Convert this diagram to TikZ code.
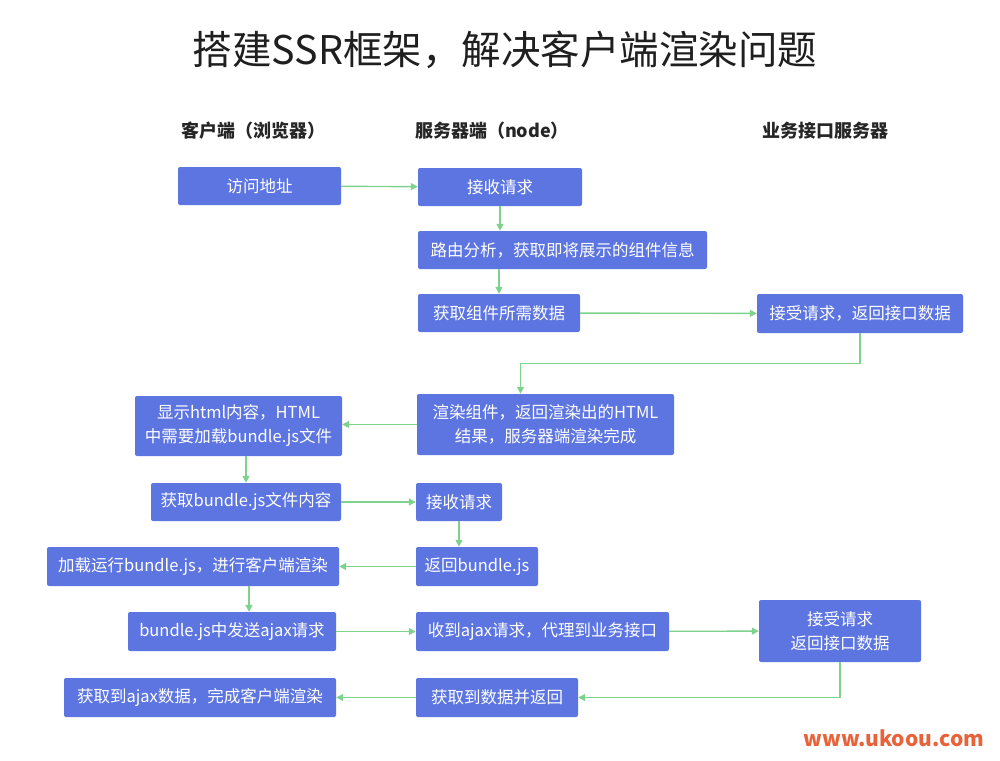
\documentclass[tikz,border=0pt]{standalone}
\usepackage{fontspec}
\setmainfont{Noto Sans CJK SC}
\usetikzlibrary{arrows.meta}
\definecolor{boxblue}{RGB}{93,117,224}
\definecolor{flowgreen}{RGB}{126,210,140}
\definecolor{siteorange}{RGB}{232,98,58}
\tikzset{
  box/.style={fill=boxblue,rounded corners=2pt,text=white,inner sep=0pt,align=center,font=\fontsize{16.5}{24}\selectfont},
  flow/.style={draw=flowgreen,line width=1.4pt,-{Triangle[length=7pt,width=7pt]}},
  colhead/.style={font=\fontsize{18}{22}\selectfont\bfseries,text=black!85}
}

\begin{document}
\begin{tikzpicture}[x=1pt,y=-1pt]
\useasboundingbox[fill=white](0,0)rectangle(1000,760);
\node[font=\fontsize{39.5}{44}\selectfont,text=black!88](title)at(505,50){搭建SSR框架，解决客户端渲染问题};
\node[colhead](hclient)at(253,131){客户端（浏览器）};\node[colhead](hserver)at(492,131){服务器端（node）};\node[colhead](hapi)at(825,131){业务接口服务器};
% first request: page html
\node[box,minimum width=163,minimum height=38](visit)at(259.5,186){访问地址};
\node[box,minimum width=164,minimum height=38](recv)at(500,187){接收请求};
\node[box,minimum width=289,minimum height=38](route)at(562.5,250){路由分析，获取即将展示的组件信息};
\node[box,minimum width=162,minimum height=38](getdata)at(499,313){获取组件所需数据};
\node[box,minimum width=206,minimum height=39](api1)at(860,313.5){接受请求，返回接口数据};
\node[box,minimum width=257,minimum height=61](render)at(545.5,424.5){渲染组件，返回渲染出的HTML\\结果，服务器端渲染完成};
\node[box,minimum width=207,minimum height=60](showhtml)at(238.5,426){显示html内容，HTML\\中需要加载bundle.js文件};
% second request: bundle.js
\node[box,minimum width=190,minimum height=38](getbundle)at(246,502){获取bundle.js文件内容};
\node[box,minimum width=86,minimum height=38](recv2)at(459,502){接收请求};
\node[box,minimum width=122,minimum height=39](retbundle)at(477,566.5){返回bundle.js};
\node[box,minimum width=292,minimum height=39](loadrun)at(193,566.5){加载运行bundle.js，进行客户端渲染};
% ajax
\node[box,minimum width=208,minimum height=39](sendajax)at(232,631.5){bundle.js中发送ajax请求};
\node[box,minimum width=253,minimum height=39](proxy)at(542.5,631.5){收到ajax请求，代理到业务接口};
\node[box,minimum width=162,minimum height=62](api2)at(840,631){接受请求\\返回接口数据};
\node[box,minimum width=272,minimum height=39](gotajax)at(200,697.5){获取到ajax数据，完成客户端渲染};
\node[box,minimum width=162,minimum height=39](gotdata)at(497,697.5){获取到数据并返回};
\node[font=\fontsize{21}{24}\selectfont\bfseries,text=siteorange](site)at(894,738){www.ukoou.com};
\draw[flow](visit)--(recv);\draw[flow](recv.south)--(recv.south|-route.north);\draw[flow](getdata.north|-route.south)--(getdata.north);\draw[flow](getdata)--(api1);
\draw[flow](api1.south)--++(0,30)-|([xshift=-25]render.north);\draw[flow](render)--(render.west-|showhtml.east);\draw[flow](getbundle.north|-showhtml.south)--(getbundle.north);
\draw[flow](getbundle)--(recv2);\draw[flow](recv2.south)--(recv2.south|-retbundle.north);\draw[flow](retbundle)--(loadrun);\draw[flow]([xshift=56]loadrun.south)--([xshift=17]sendajax.north);
\draw[flow](sendajax)--(proxy);\draw[flow](proxy)--(api2);\draw[flow](api2.south)|-(gotdata.east);\draw[flow](gotdata)--(gotajax);
\end{tikzpicture}
\end{document}
